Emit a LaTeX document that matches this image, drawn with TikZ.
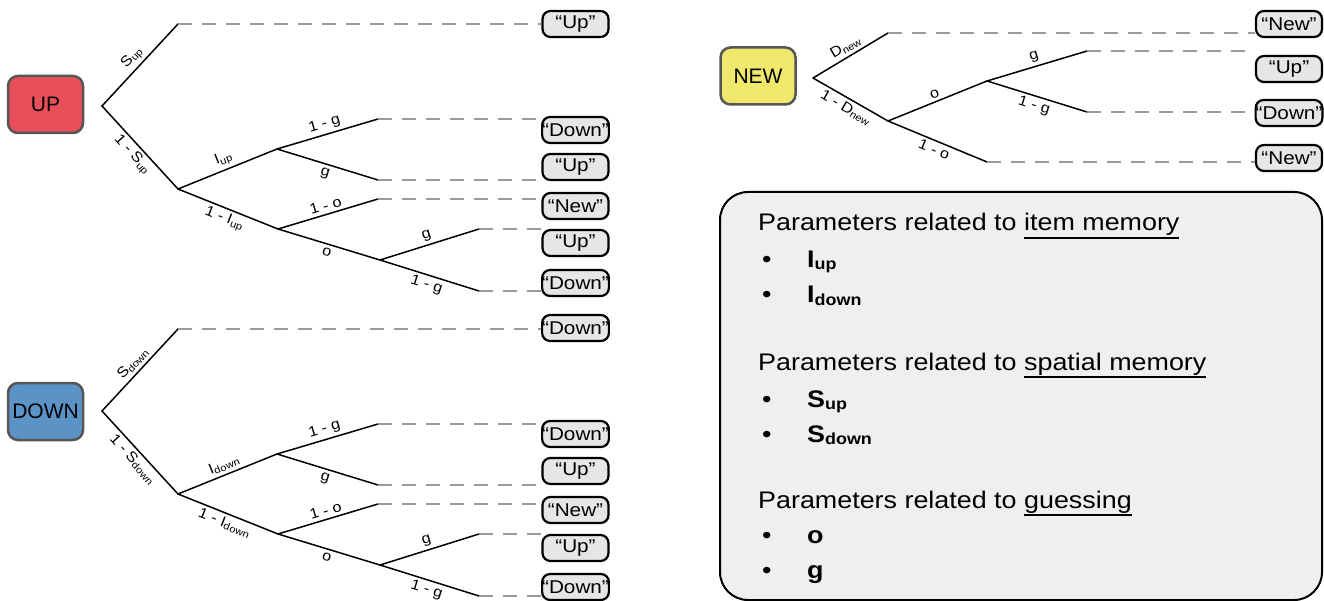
\documentclass[tikz,border=0pt]{standalone}
\usepackage{fontspec}
\setmainfont[FakeStretch=1.12]{Liberation Sans}
\newfontfamily\stimfont{Liberation Sans}
\newsavebox{\ulbox}
\newcommand{\ulword}[1]{\sbox{\ulbox}{#1}\rlap{\rule[-8pt]{\wd\ulbox}{1.8pt}}\usebox{\ulbox}}
\newcommand{\lowidx}[2]{\raisebox{-2pt}{\fontsize{#1}{#1}\selectfont #2}}
\definecolor{upred}{HTML}{E84F5A}
\definecolor{downblue}{HTML}{5B93C7}
\definecolor{newyellow}{HTML}{F0E86A}
\definecolor{rim}{HTML}{555555}
\definecolor{respgray}{HTML}{E6E6E6}
\definecolor{panelgray}{HTML}{EFEFEF}
\definecolor{dashgray}{HTML}{999999}
\tikzset{
  stim/.style={draw=rim, line width=2.5pt, rounded corners=10pt, minimum width=75pt,
    minimum height=57pt, inner sep=0pt, font=\stimfont\fontsize{21}{21}\selectfont},
  resp/.style={draw=black, fill=respgray, line width=2.2pt, rounded corners=8pt,
    minimum width=66pt, minimum height=26pt, inner sep=0pt, font=\fontsize{18.5}{18.5}\selectfont},
  branch/.style={line width=1.5pt, line cap=round},
  lead/.style={draw=dashgray, line width=1.4pt, dash pattern=on 14pt off 10pt},
  prob/.style={sloped, font=\fontsize{14.5}{14.5}\selectfont, inner sep=3pt},
  panel/.style={draw=black, fill=panelgray, line width=2pt, rounded corners=28pt,
    minimum width=602pt, minimum height=408pt},
  keyline/.style={anchor=base west, inner sep=0pt, font=\fontsize{24}{24}\selectfont},
}
\begin{document}
\begin{tikzpicture}[x=1pt,y=-1pt]
  \useasboundingbox (0,0) rectangle (1324,601);
  % stimuli
  \draw
    (45.5,104.5) node[stim, fill=upred] (up){UP}
    (45.5,411.5) node[stim, fill=downblue] (down){DOWN}
    (758,76) node[stim, fill=newyellow] (new){NEW};
  % responses
  \draw
    (575.5,24) node[resp] (u1){``Up''}
    (575.5,130) node[resp] (u2){``Down''}
    (575.5,167) node[resp] (u3){``Up''}
    (575.5,206) node[resp] (u4){``New''}
    (575.5,243) node[resp] (u5){``Up''}
    (575.5,283) node[resp] (u6){``Down''}
    (575.5,328) node[resp] (d1){``Down''}
    (575.5,434) node[resp] (d2){``Down''}
    (575.5,471) node[resp] (d3){``Up''}
    (575.5,510) node[resp] (d4){``New''}
    (575.5,548) node[resp] (d5){``Up''}
    (575.5,587) node[resp] (d6){``Down''}
    (1289,24) node[resp] (n1){``New''}
    (1289,69) node[resp] (n2){``Up''}
    (1289,113) node[resp] (n3){``Down''}
    (1289,158) node[resp] (n4){``New''};
  % branch points
  \coordinate (ur) at (102,106);
  \coordinate (us) at (178,24);
  \coordinate (ua) at (178,189);
  \coordinate (ub) at (277,149);
  \coordinate (ub1) at (378,119);
  \coordinate (ub2) at (378,180);
  \coordinate (uc) at (278,229);
  \coordinate (uc1) at (378,199);
  \coordinate (ud) at (380,260);
  \coordinate (ud1) at (479,229);
  \coordinate (ud2) at (479,291);
  \coordinate (dr) at (102,411);
  \coordinate (ds) at (178,329);
  \coordinate (da) at (178,494);
  \coordinate (db) at (277,454);
  \coordinate (db1) at (378,424);
  \coordinate (db2) at (378,485);
  \coordinate (dc) at (278,534);
  \coordinate (dc1) at (378,504);
  \coordinate (dd) at (380,565);
  \coordinate (dd1) at (479,534);
  \coordinate (dd2) at (479,596);
  \coordinate (nr) at (813,78);
  \coordinate (nd) at (888,33);
  \coordinate (ne) at (888,121);
  \coordinate (nf) at (987,81);
  \coordinate (nf1) at (1087,51);
  \coordinate (nf2) at (1087,112);
  \coordinate (ne1) at (987,162);
  \begin{scope}[branch]
    \draw (ur) to node[prob, above]{S\lowidx{10}{up}} (us);
    \draw (ur) to node[prob, below]{1 - S\lowidx{10}{up}} (ua);
    \draw (ua) to node[prob, above]{I\lowidx{10}{up}} (ub);
    \draw (ub) to node[prob, above]{1 - g} (ub1);
    \draw (ub) to node[prob, below]{g} (ub2);
    \draw (ua) to node[prob, below]{1 - I\lowidx{10}{up}} (uc);
    \draw (uc) to node[prob, above]{1 - o} (uc1);
    \draw (uc) to node[prob, below]{o} (ud);
    \draw (ud) to node[prob, above]{g} (ud1);
    \draw (ud) to node[prob, below]{1 - g} (ud2);
    \draw (dr) to node[prob, above]{S\lowidx{10}{down}} (ds);
    \draw (dr) to node[prob, below]{1 - S\lowidx{10}{down}} (da);
    \draw (da) to node[prob, above]{I\lowidx{10}{down}} (db);
    \draw (db) to node[prob, above]{1 - g} (db1);
    \draw (db) to node[prob, below]{g} (db2);
    \draw (da) to node[prob, below]{1 - I\lowidx{10}{down}} (dc);
    \draw (dc) to node[prob, above]{1 - o} (dc1);
    \draw (dc) to node[prob, below]{o} (dd);
    \draw (dd) to node[prob, above]{g} (dd1);
    \draw (dd) to node[prob, below]{1 - g} (dd2);
    \draw (nr) to node[prob, above]{D\lowidx{10}{new}} (nd);
    \draw (nr) to node[prob, below]{1 - D\lowidx{10}{new}} (ne);
    \draw (ne) to node[prob, above]{o} (nf);
    \draw (nf) to node[prob, above]{g} (nf1);
    \draw (nf) to node[prob, below]{1 - g} (nf2);
    \draw (ne) to node[prob, below]{1 - o} (ne1);
  \end{scope}
  \begin{scope}[lead]
    \draw (us) -- (us -| u1.west);
    \draw (ub1) -- (ub1 -| u2.west);
    \draw (ub2) -- (ub2 -| u3.west);
    \draw (uc1) -- (uc1 -| u4.west);
    \draw (ud1) -- (ud1 -| u5.west);
    \draw (ud2) -- (ud2 -| u6.west);
    \draw (ds) -- (ds -| d1.west);
    \draw (db1) -- (db1 -| d2.west);
    \draw (db2) -- (db2 -| d3.west);
    \draw (dc1) -- (dc1 -| d4.west);
    \draw (dd1) -- (dd1 -| d5.west);
    \draw (dd2) -- (dd2 -| d6.west);
    \draw (nd) -- (nd -| n1.west);
    \draw (nf1) -- (nf1 -| n2.west);
    \draw (nf2) -- (nf2 -| n3.west);
    \draw (ne1) -- (ne1 -| n4.west);
  \end{scope}
  % parameter key
  \node[panel] (key) at (1021,396) {};
  \draw
    (758,231) node[keyline] (t1){Parameters related to \ulword{item memory}}
    (762,268) node[keyline] (b1){\textbullet}
    (807,268) node[keyline] (p1){\textbf{I\lowidx{16}{up}}}
    (762,303) node[keyline] (b2){\textbullet}
    (807,303) node[keyline] (p2){\textbf{I\lowidx{16}{down}}}
    (758,370) node[keyline] (t2){Parameters related to \ulword{spatial memory}}
    (762,407) node[keyline] (b3){\textbullet}
    (807,407) node[keyline] (p3){\textbf{S\lowidx{16}{up}}}
    (762,442) node[keyline] (b4){\textbullet}
    (807,442) node[keyline] (p4){\textbf{S\lowidx{16}{down}}}
    (758,508) node[keyline] (t3){Parameters related to \ulword{guessing}}
    (762,543) node[keyline] (b5){\textbullet}
    (807,543) node[keyline] (p5){\textbf{o}}
    (762,578) node[keyline] (b6){\textbullet}
    (807,578) node[keyline] (p6){\textbf{g}};
\end{tikzpicture}
\end{document}
